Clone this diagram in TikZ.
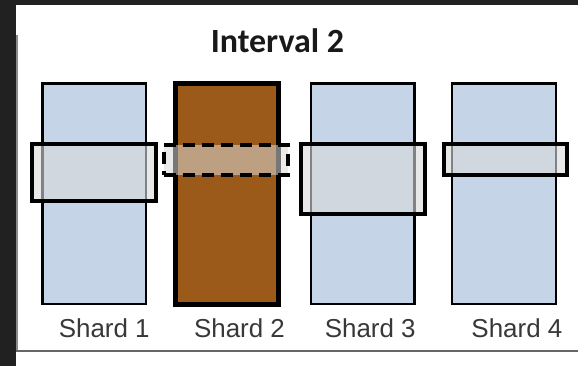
\documentclass[tikz,border=0pt]{standalone}
\usepackage{fontspec}
\setmainfont{Liberation Sans}
\newfontfamily\titlefont{Carlito}
\usepackage{tikz}

\definecolor{panelbg}{RGB}{33,33,33}
\definecolor{shardblue}{RGB}{198,212,232}
\definecolor{shardbrown}{RGB}{155,90,25}
\definecolor{winfill}{RGB}{217,217,217}

\begin{document}
\begin{tikzpicture}[x=1pt, y=-1pt,
	shard/.style={draw, line width=2.5pt, fill=shardblue, inner sep=0pt, minimum width=104pt, minimum height=221pt},
	hotshard/.style={shard, line width=5pt, fill=shardbrown, minimum width=104pt, minimum height=222pt},
	window/.style={draw, line width=4pt, fill=winfill, fill opacity=0.6, inner sep=0pt, minimum width=124pt},
	shardlabel/.style={anchor=base, text=black!78, font=\fontsize{26}{30}\selectfont}]
	% panel and frame
	\fill[panelbg] (0,0) rectangle (579,367);
	\fill[white] (16,5) rectangle (579,367);
	\draw[black!45, line width=2pt] (17,35) -- (17,352);
	\draw[black!60, line width=2.5pt] (16,352) -- (579,352);
	\useasboundingbox (0,0) rectangle (579,367);
	% title
	\node[anchor=base, font=\titlefont\bfseries\fontsize{34}{40}\selectfont, text=black!90] (title) at (278,53) {Interval 2};
	% shards
	\node[shard] (s1) at (94.5,194) {};
	\node[hotshard] (s2) at (227.5,194.5) {};
	\node[shard] (s3) at (363.5,194) {};
	\node[shard] (s4) at (505,194) {};
	% windows of the interval
	\node[window, minimum height=57pt] (w1) at (94,172.5) {};
	\node[window, minimum height=30pt, dash pattern=on 12pt off 7pt, fill opacity=0.55] (w2) at (226.5,160) {};
	\node[window, minimum height=70pt] (w3) at (364,179) {};
	\node[window, minimum height=31pt] (w4) at (506.5,159.5) {};
	% labels
	\node[shardlabel] (l1) at (104.5,338) {Shard 1};
	\node[shardlabel] (l2) at (240,338) {Shard 2};
	\node[shardlabel] (l3) at (371,338) {Shard 3};
	\node[shardlabel] (l4) at (518,338) {Shard 4};
\end{tikzpicture}
\end{document}
